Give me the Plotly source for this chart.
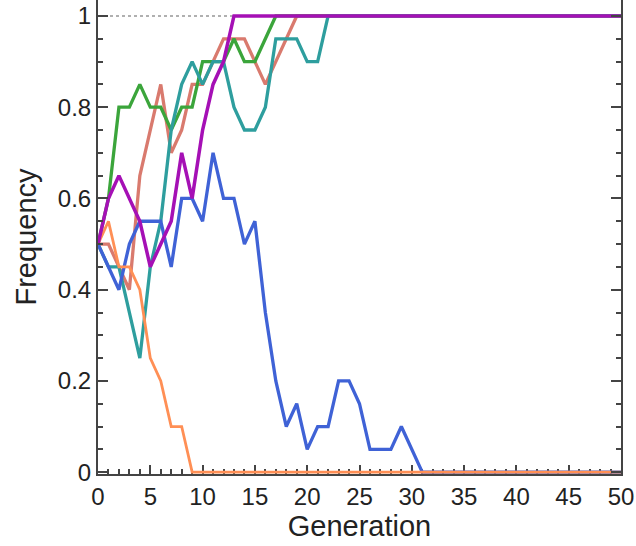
import plotly.graph_objects as go

generations = list(range(0, 51))

blue = [0.5, 0.45, 0.4, 0.5, 0.55, 0.55, 0.55, 0.45, 0.6, 0.6, 0.55, 0.7, 0.6, 0.6, 0.5, 0.55,
        0.35, 0.2, 0.1, 0.15, 0.05, 0.1, 0.1, 0.2, 0.2, 0.15, 0.05, 0.05, 0.05, 0.1, 0.05, 0.0] + [0.0] * 19
orange = [0.5, 0.55, 0.45, 0.45, 0.4, 0.25, 0.2, 0.1, 0.1, 0.0] + [0.0] * 41
green = [0.5, 0.6, 0.8, 0.8, 0.85, 0.8, 0.8, 0.75, 0.8, 0.8, 0.9, 0.9, 0.9, 0.95, 0.9, 0.9,
         0.95, 1.0] + [1.0] * 33
red = [0.5, 0.5, 0.45, 0.4, 0.65, 0.75, 0.85, 0.7, 0.75, 0.85, 0.85, 0.9, 0.95, 0.95, 0.95, 0.9,
       0.85, 0.9, 0.95, 1.0] + [1.0] * 31
teal = [0.5, 0.45, 0.45, 0.35, 0.25, 0.45, 0.55, 0.75, 0.85, 0.9, 0.85, 0.9, 0.9, 0.8, 0.75, 0.75,
        0.8, 0.95, 0.95, 0.95, 0.9, 0.9, 1.0] + [1.0] * 28
purple = [0.5, 0.6, 0.65, 0.6, 0.55, 0.45, 0.5, 0.55, 0.7, 0.6, 0.75, 0.85, 0.9, 1.0] + [1.0] * 37
fixation = [1.0] * 51

series = [
    ("red", red, "#d97a6e", 3.3),
    ("green", green, "#3ba53b", 3.3),
    ("teal", teal, "#2e9e9e", 3.3),
    ("blue", blue, "#3f62d6", 3.3),
    ("orange", orange, "#ff8f55", 2.8),
    ("purple", purple, "#a510b5", 3.5),
]

fig = go.Figure()
fig.add_trace(go.Scatter(x=generations, y=fixation, mode="lines",
                         line=dict(color="#b0b0b0", width=2, dash="dot"),
                         showlegend=False, hoverinfo="skip"))
for name, vals, color, w in series:
    fig.add_trace(go.Scatter(x=generations, y=vals, mode="lines", name=name,
                             line=dict(color=color, width=w), showlegend=False))

font_family = "Liberation Sans, Arial, sans-serif"
fig.update_layout(
    width=636, height=546,
    margin=dict(l=98, r=15, t=0, b=72),
    paper_bgcolor="white", plot_bgcolor="white",
    font=dict(family=font_family, color="#222222", size=24),
)
fig.update_xaxes(
    range=[0, 50], dtick=5, tick0=0,
    showgrid=False, zeroline=False, layer="below traces",
    showline=True, linecolor="#444444", linewidth=2, mirror=False,
    ticks="inside", ticklen=9, tickwidth=1.5, tickcolor="#444444",
    minor=dict(dtick=1, ticks="inside", ticklen=5, tickwidth=1.5, tickcolor="#444444"),
    tickfont=dict(size=24),
    title=dict(text="Generation", font=dict(size=29), standoff=5),
)
fig.update_yaxes(
    range=[-0.004, 1.035], tickvals=[0, 0.2, 0.4, 0.6, 0.8, 1.0],
    ticktext=["0", "0.2", "0.4", "0.6", "0.8", "1"],
    showgrid=False, zeroline=False,
    showline=True, linecolor="#444444", linewidth=2, mirror="ticks",
    ticks="inside", ticklen=10, tickwidth=1.5, tickcolor="#444444",
    minor=dict(dtick=0.05, tick0=0, ticks="inside", ticklen=5, tickwidth=1.5, tickcolor="#444444"),
    tickfont=dict(size=24),
    title=dict(text="Frequency", font=dict(size=29), standoff=13),
)

fig.write_html("out.html")
